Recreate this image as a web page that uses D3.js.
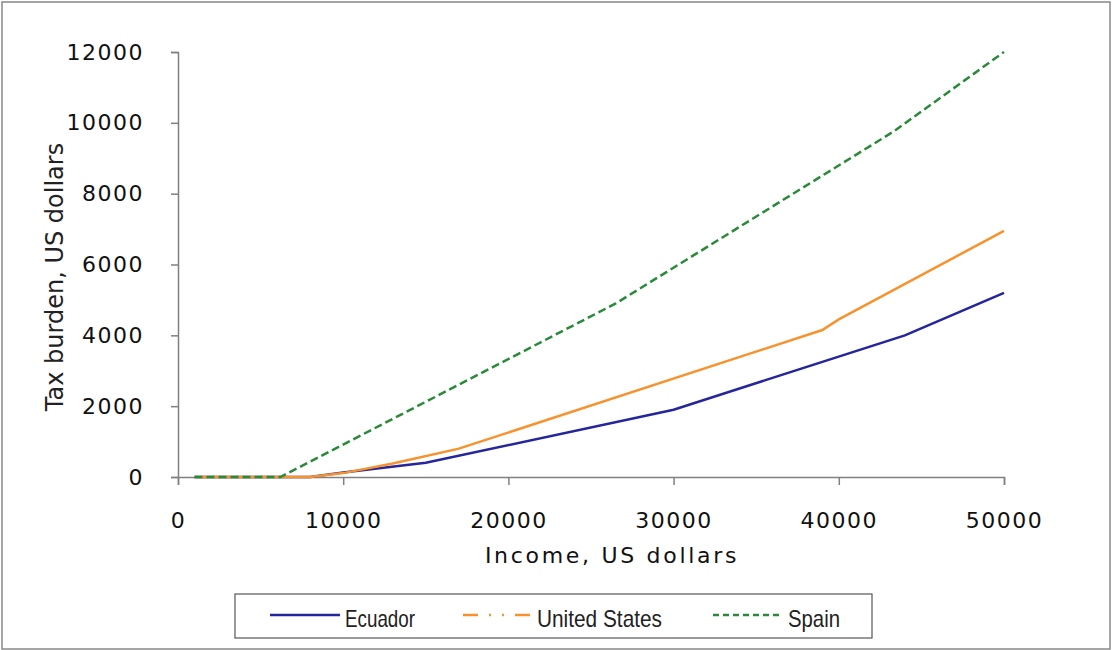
<!DOCTYPE html>
<html lang="en">
<head>
	<meta charset="UTF-8">
	<title>Tax burden</title>
	<style>
		body { margin: 0; background: #fff; }
		text { font-family: "DejaVu Sans", Verdana, sans-serif; }
	</style>
	<script src="https://d3js.org/d3.v7.min.js"></script>
</head>
<body>
	<script type="text/javascript">
		// data (income, tax)
		const countries = ["Ecuador", "United States", "Spain"];
		const ecuador = [[1000, 0], [8000, 0], [10000, 130], [15000, 400], [30000, 1900], [44000, 4000], [50000, 5200]];
		const unitedStates = [[1000, 0], [8000, 0], [10000, 110], [13000, 380], [17000, 800], [39000, 4150], [40000, 4450], [50000, 6950]];
		const spain = [[1000, 0], [6200, 0], [26500, 4900], [43300, 9750], [50000, 12000]];
		const xTicks = [0, 10000, 20000, 30000, 40000, 50000];
		const yTicks = [0, 2000, 4000, 6000, 8000, 10000, 12000];

		const width = 1112;
		const height = 650;
		const colors = ["#25259c", "#f7932e", "#2a8a3a"];

		const svg = d3.select("body").append("svg")
			.attr("width", width)
			.attr("height", height);

		// outer frame
		svg.append("rect")
			.attr("x", 2).attr("y", 2)
			.attr("width", width - 4).attr("height", height - 3)
			.attr("fill", "none").attr("stroke", "#888").attr("stroke-width", 1.5);

		const x = d3.scaleLinear().domain([0, 50000]).range([178, 1004]);
		const y = d3.scaleLinear().domain([0, 12000]).range([477, 52]);

		// y axis
		const yAxis = svg.append("g")
			.attr("transform", "translate(178,0)")
			.call(d3.axisLeft(y).tickValues(yTicks).tickSize(7).tickPadding(27).tickFormat(d3.format("d")));
		// x axis
		const xAxis = svg.append("g")
			.attr("transform", "translate(0,477)")
			.call(d3.axisBottom(x).tickValues(xTicks).tickSize(8).tickPadding(27).tickFormat(d3.format("d")));

		[xAxis, yAxis].forEach(function(a) {
			a.select(".domain").attr("stroke", "#808080").attr("stroke-width", 1.5);
			a.selectAll(".tick line").attr("stroke", "#808080").attr("stroke-width", 1.5);
			a.selectAll(".tick text")
				.attr("fill", "#111")
				.style("font-size", "22px")
				.style("letter-spacing", "1.5px");
		});

		svg.append("text")
			.attr("x", 612).attr("y", 563)
			.attr("text-anchor", "middle")
			.style("font-size", "22px")
			.style("letter-spacing", "2.7px")
			.attr("fill", "#111")
			.text("Income, US dollars");

		svg.append("text")
			.attr("transform", "translate(63,277) rotate(-90)")
			.attr("text-anchor", "middle")
			.style("font-size", "24px")
			.attr("fill", "#222")
			.text("Tax burden, US dollars");

		const line = d3.line()
			.x(function(d) { return x(d[0]); })
			.y(function(d) { return y(d[1]); });

		const series = [ecuador, unitedStates, spain];
		const dashes = [null, null, "8,4"];

		svg.selectAll(".series")
			.data(series)
			.join("path")
			.classed("series", true)
			.attr("d", line)
			.attr("fill", "none")
			.attr("stroke", function(d, i) { return colors[i]; })
			.attr("stroke-width", 2.5)
			.attr("stroke-dasharray", function(d, i) { return dashes[i]; });

		// legend
		const legend = svg.append("g");
		legend.append("rect")
			.attr("x", 235).attr("y", 594)
			.attr("width", 637).attr("height", 44)
			.attr("fill", "#fff").attr("stroke", "#555").attr("stroke-width", 1.2);

		const legendLines = [[270, 340], [463, 532], [713, 783]];
		const legendText = [70, 125, 52];
		const legendDashes = [null, "15,11,2,11,2,11", "6,4"];
		legend.selectAll(".key")
			.data(countries)
			.join("line")
			.classed("key", true)
			.attr("x1", function(d, i) { return legendLines[i][0]; })
			.attr("x2", function(d, i) { return legendLines[i][1]; })
			.attr("y1", 615).attr("y2", 615)
			.attr("stroke", function(d, i) { return colors[i]; })
			.attr("stroke-width", 2.5)
			.attr("stroke-dasharray", function(d, i) { return legendDashes[i]; });

		legend.selectAll(".label")
			.data(countries)
			.join("text")
			.classed("label", true)
			.attr("x", function(d, i) { return legendLines[i][1] + 5; })
			.attr("y", 627)
			.attr("textLength", function(d, i) { return legendText[i]; })
			.attr("lengthAdjust", "spacingAndGlyphs")
			.style("font-family", "'Liberation Sans', sans-serif")
			.style("font-size", "24px")
			.attr("fill", "#222")
			.text(function(d) { return d; });
	</script>
</body>
</html>
